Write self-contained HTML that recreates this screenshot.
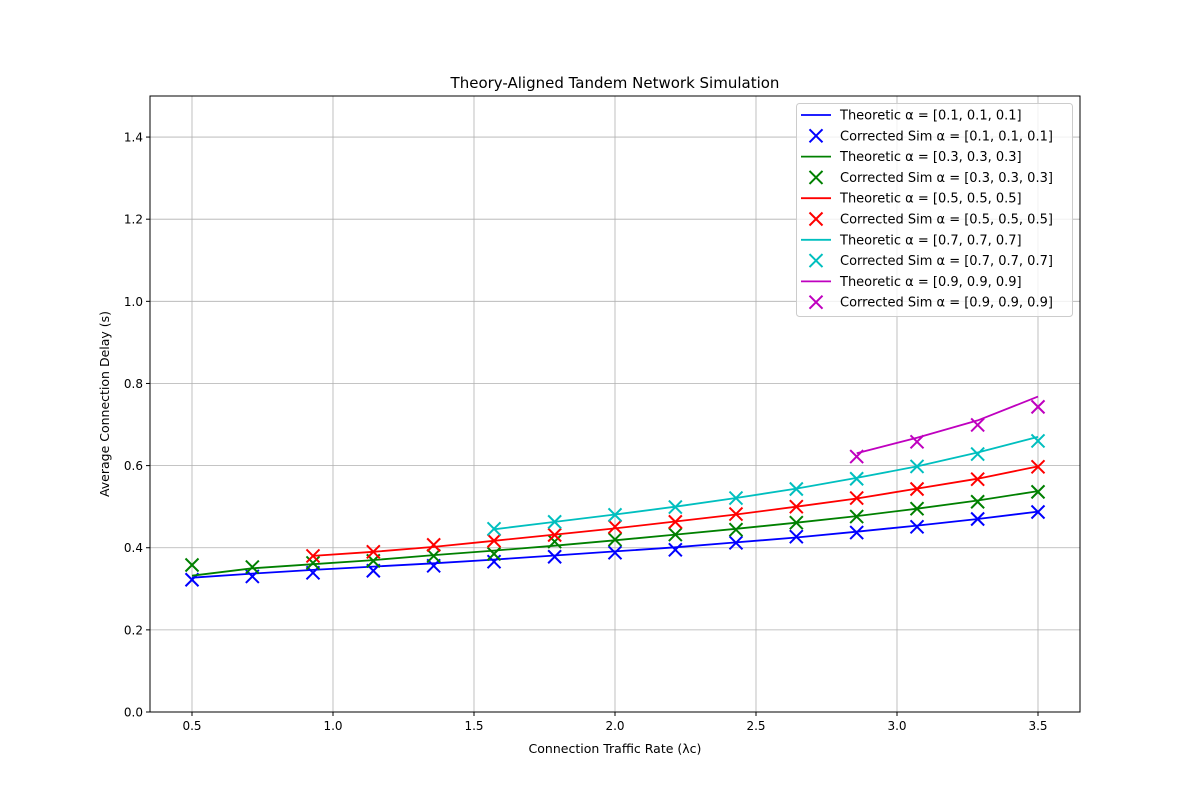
<!DOCTYPE html>
<html><head><meta charset="utf-8"><style>
html,body{margin:0;padding:0;background:#fff;}
svg{display:block;font-family:"DejaVu Sans","Liberation Sans",sans-serif;}
</style></head><body>
<svg id="chart" width="1200" height="800" xmlns="http://www.w3.org/2000/svg"></svg>
<script>
const xValues=[0.5,0.714,0.929,1.143,1.357,1.571,1.786,2.0,2.214,2.429,2.643,2.857,3.071,3.286,3.5];
const seriesLabels=["[0.1, 0.1, 0.1]","[0.3, 0.3, 0.3]","[0.5, 0.5, 0.5]","[0.7, 0.7, 0.7]","[0.9, 0.9, 0.9]"];
const seriesStart=[0,0,2,5,11];
const theory1=[0.327,0.337,0.346,0.354,0.362,0.371,0.381,0.391,0.401,0.413,0.425,0.439,0.454,0.470,0.488];
const sim1=[0.322,0.330,0.339,0.344,0.356,0.366,0.378,0.388,0.395,0.412,0.427,0.437,0.451,0.470,0.487];
const theory2=[0.332,0.350,0.360,0.370,0.382,0.393,0.405,0.418,0.432,0.446,0.461,0.477,0.495,0.515,0.538];
const sim2=[0.358,0.353,0.363,0.368,0.380,0.385,0.415,0.420,0.432,0.444,0.461,0.476,0.495,0.512,0.536];
const theory3=[0.380,0.390,0.402,0.417,0.432,0.447,0.464,0.481,0.500,0.520,0.544,0.568,0.598];
const sim3=[0.380,0.390,0.407,0.417,0.431,0.451,0.463,0.482,0.500,0.521,0.543,0.567,0.597];
const theory4=[0.445,0.463,0.481,0.500,0.521,0.544,0.570,0.598,0.632,0.670];
const sim4=[0.446,0.463,0.480,0.499,0.521,0.543,0.568,0.598,0.628,0.660];
const theory5=[0.630,0.668,0.710,0.768];
const sim5=[0.622,0.658,0.699,0.743];
const xTicks=[0.5,1.0,1.5,2.0,2.5,3.0,3.5];
const xTickLabels=["0.5","1.0","1.5","2.0","2.5","3.0","3.5"];
const yTicks=[0,0.2,0.4,0.6,0.8,1.0,1.2,1.4];
const yTickLabels=["0.0","0.2","0.4","0.6","0.8","1.0","1.2","1.4"];

const theories=[theory1,theory2,theory3,theory4,theory5];
const sims=[sim1,sim2,sim3,sim4,sim5];
const colors=["#0000ff","#008000","#ff0000","#00bfbf","#bf00bf"];
const L=150,R=1080,T=96,B=712;
const X=v=>192+(v-0.5)*282;
const Y=v=>B-(v/1.5)*(B-T);
const svg=document.getElementById('chart');
const NS="http://www.w3.org/2000/svg";
function mk(tag,attrs,parent){const e=document.createElementNS(NS,tag);for(const k in attrs)e.setAttribute(k,attrs[k]);(parent||svg).appendChild(e);return e;}

const grid=mk('g',{});


xTicks.forEach(t=>mk('line',{x1:X(t),x2:X(t),y1:T,y2:B,stroke:'#b0b0b0','stroke-width':0.8},grid));
yTicks.forEach(t=>mk('line',{x1:L,x2:R,y1:Y(t),y2:Y(t),stroke:'#b0b0b0','stroke-width':0.8},grid));

theories.forEach((th,i)=>{
  const g=mk('g',{});
  
  
  const s=seriesStart[i];
  const pts=th.map((v,j)=>X(xValues[s+j]).toFixed(1)+','+Y(v).toFixed(1)).join(' ');
  const pl=mk('polyline',{points:pts,fill:'none',stroke:colors[i],'stroke-width':1.8},g);
  
  
  sims[i].forEach((v,j)=>{
    const cx=X(xValues[s+j]),cy=Y(v),d=6.5;
    const p=mk('path',{d:`M${cx-d},${cy-d}L${cx+d},${cy+d}M${cx-d},${cy+d}L${cx+d},${cy-d}`,stroke:colors[i],'stroke-width':2,fill:'none'},g);
    
    
  });
});

const frame=mk('rect',{x:L,y:T,width:R-L,height:B-T,fill:'none',stroke:'#000','stroke-width':1});


xTicks.forEach((t,i)=>{
  mk('line',{x1:X(t),x2:X(t),y1:B,y2:B+4,stroke:'#000'});
  const tx=mk('text',{x:X(t),y:B+18,'text-anchor':'middle','font-size':12});
  tx.textContent=xTickLabels[i];
  
  
});
yTicks.forEach((t,i)=>{
  mk('line',{x1:L-4,x2:L,y1:Y(t),y2:Y(t),stroke:'#000'});
  const tx=mk('text',{x:L-7,y:Y(t)+4.5,'text-anchor':'end','font-size':12});
  tx.textContent=yTickLabels[i];
  
  
});

const title=mk('text',{x:615,y:88,'text-anchor':'middle','font-size':15});
title.textContent='Theory-Aligned Tandem Network Simulation';


const xl=mk('text',{x:615,y:753,'text-anchor':'middle','font-size':12.5});
xl.textContent='Connection Traffic Rate (λc)';


const yl=mk('text',{x:0,y:0,'text-anchor':'middle','font-size':12.5,transform:'translate(109,404) rotate(-90)'});
yl.textContent='Average Connection Delay (s)';



const lg=mk('g',{});


mk('rect',{x:796.5,y:103.5,width:276,height:213,rx:3,fill:'#fff','fill-opacity':0.8,stroke:'#ccc'},lg);
seriesLabels.forEach((lab,i)=>{
  const y1=115+i*41.6, y2=y1+20.8;
  mk('line',{x1:801,x2:831,y1:y1,y2:y1,stroke:colors[i],'stroke-width':1.8},lg);
  const t1=mk('text',{x:840,y:y1+4.5,'font-size':13},lg);
  t1.textContent='Theoretic α = '+lab;
  
  
  const cx=816,d=6.5;
  mk('path',{d:`M${cx-d},${y2-d}L${cx+d},${y2+d}M${cx-d},${y2+d}L${cx+d},${y2-d}`,stroke:colors[i],'stroke-width':2},lg);
  const t2=mk('text',{x:840,y:y2+4.5,'font-size':13},lg);
  t2.textContent='Corrected Sim α = '+lab;
  
  
});
</script>
</body></html>
